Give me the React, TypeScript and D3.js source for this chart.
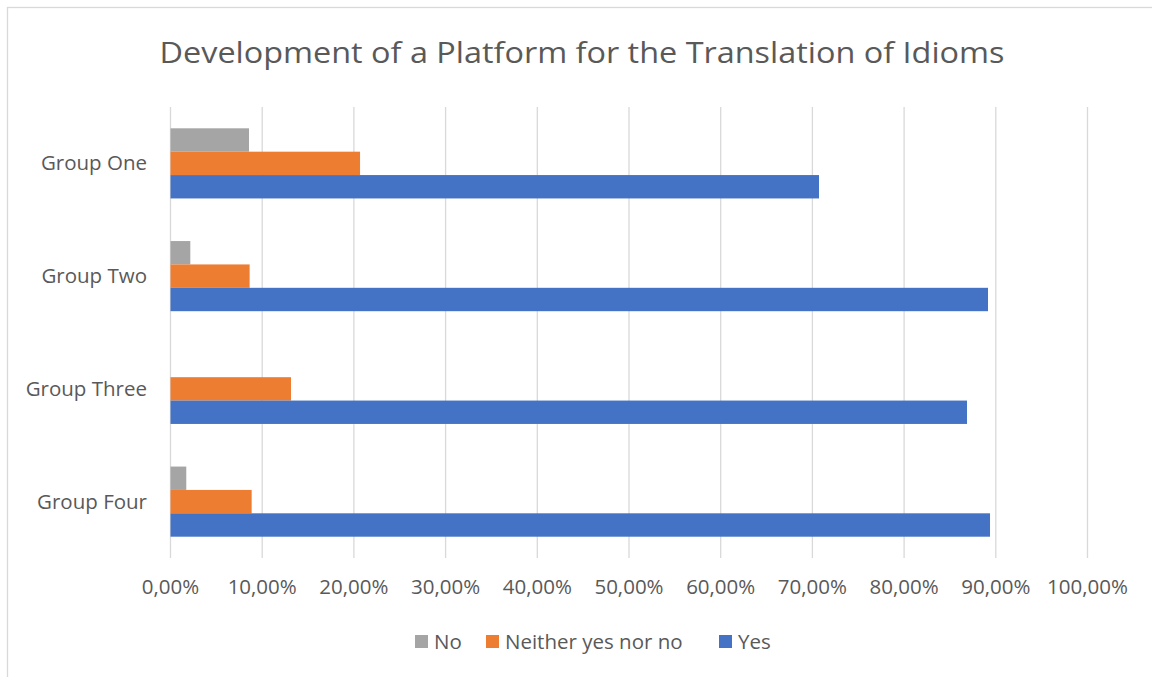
import { useEffect, useRef } from "react";
import * as d3 from "d3";

const categories = ["Group One", "Group Two", "Group Three", "Group Four"];
const seriesNames = ["No", "Neither yes nor no", "Yes"];
const noValues = [8.56, 2.16, 0, 1.72];
const neitherValues = [20.67, 8.63, 13.14, 8.85];
const yesValues = [70.72, 89.15, 86.86, 89.37];
const xTicks = [0, 10, 20, 30, 40, 50, 60, 70, 80, 90, 100];
const colors = ["#A5A5A5", "#ED7D31", "#4472C4"];
const title = "Development of a Platform for the Translation of Idioms";

export default function App() {
  const ref = useRef<SVGSVGElement>(null);

  useEffect(() => {
    const svg = d3.select(ref.current);
    svg.selectAll("*").remove();
    const font = "'Open Sans', sans-serif";
    const textColor = "#595959";

    const series = [noValues, neitherValues, yesValues];

    // chart frame
    svg.append("rect")
      .attr("x", 7.5).attr("y", 7.5)
      .attr("width", 1170).attr("height", 700)
      .attr("fill", "#fff")
      .attr("stroke", "#d9d9d9").attr("stroke-width", 1.3);

    const left = 170.5, right = 1087.5, top = 107, bottom = 558;

    const x = d3.scaleLinear().domain([0, 100]).range([left, right]);
    const y = d3.scaleBand<string>().domain(categories).range([top, bottom])
      .paddingInner(0.378).paddingOuter(0.189);
    const ySub = d3.scaleBand<string>().domain(seriesNames).range([0, y.bandwidth()]);

    // title
    svg.append("text")
      .attr("x", 582).attr("y", 63)
      .attr("text-anchor", "middle")
      .attr("font-family", font).attr("font-size", 29)
      .attr("fill", textColor)
      .attr("textLength", 845).attr("lengthAdjust", "spacingAndGlyphs")
      .text(title);

    // gridlines
    svg.append("g").selectAll("line").data(xTicks).join("line")
      .attr("x1", d => x(d)).attr("x2", d => x(d))
      .attr("y1", top).attr("y2", bottom)
      .attr("stroke", "#d9d9d9").attr("stroke-width", 1.3);

    // x tick labels
    svg.append("g").selectAll("text").data(xTicks).join("text")
      .attr("x", d => x(d)).attr("y", 594)
      .attr("text-anchor", "middle")
      .attr("font-family", font).attr("font-size", 20.5)
      .attr("fill", textColor)
      .text(d => d.toFixed(2).replace(".", ",") + "%");

    // bars
    series.forEach((vals, si) => {
      svg.append("g").selectAll("rect").data(vals).join("rect")
        .attr("x", x(0))
        .attr("y", (_, i) => (y(categories[i]) as number) + (ySub(seriesNames[si]) as number))
        .attr("width", d => x(d) - x(0))
        .attr("height", ySub.bandwidth())
        .attr("fill", colors[si]);
    });

    // category labels
    svg.append("g").selectAll("text").data(categories).join("text")
      .attr("x", 147)
      .attr("y", d => (y(d) as number) + y.bandwidth() / 2 + 7)
      .attr("text-anchor", "end")
      .attr("font-family", font).attr("font-size", 20.5)
      .attr("fill", textColor)
      .text(d => d);

    // legend
    const legendX = [415, 486, 719];
    const lg = svg.append("g");
    seriesNames.forEach((name, i) => {
      lg.append("rect")
        .attr("x", legendX[i]).attr("y", 635)
        .attr("width", 13).attr("height", 13)
        .attr("fill", colors[i]);
      lg.append("text")
        .attr("x", legendX[i] + 19).attr("y", 648.5)
        .attr("font-family", font).attr("font-size", 20.5)
        .attr("fill", textColor)
        .text(name);
    });
  }, []);

  return (
    <svg ref={ref} width={1152} height={677}
      style={{ position: "absolute", left: 0, top: 0, background: "#fff" }} />
  );
}
